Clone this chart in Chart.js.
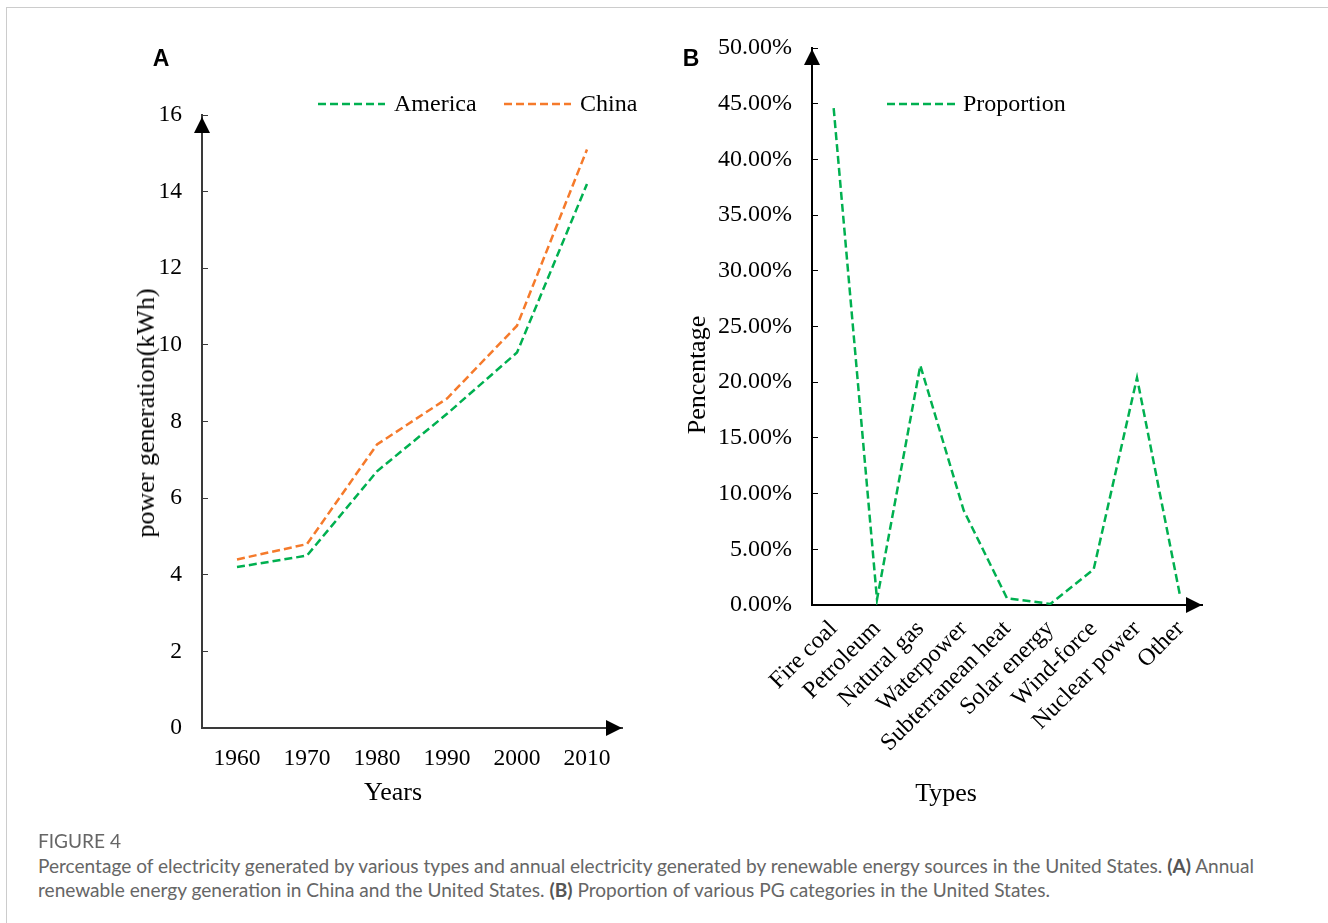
<!DOCTYPE html>
<html>
<head>
<meta charset="utf-8">
<script src="https://cdn.jsdelivr.net/npm/chart.js@4.4.1/dist/chart.umd.min.js"></script>
<style>
  body { margin: 0; background: #fff; width: 1328px; height: 923px; position: relative; overflow: hidden; font-family: 'Liberation Serif', serif; }
  .frame { position: absolute; left: 6px; top: 7px; width: 1340px; height: 940px; border-top: 1px solid #cccccc; border-left: 1px solid #cccccc; }
  canvas { position: absolute; top: 0; }
  #chartA { left: 0; }
  #chartB { left: 664px; }
  .panel { position: absolute; font-family: 'Liberation Sans', Arial, sans-serif; font-weight: bold; font-size: 23px; transform: translate(-50%, -50%); }
  .axis-title { position: absolute; font-size: 26px; white-space: nowrap; transform: translate(-50%, -50%); color: #000; }
  .axis-title.rot { transform: translate(-50%, -50%) rotate(-90deg); }
  .caption { position: absolute; left: 38px; font-family: Lato, 'Open Sans', sans-serif; color: #666; white-space: nowrap; font-size: 17px; line-height: 22px; }
  .caption b { font-weight: bold; color: #555; }
</style>
</head>
<body>
<div class="frame"></div>
<canvas id="chartA" width="664" height="830"></canvas>
<canvas id="chartB" width="664" height="830"></canvas>

<div class="panel" style="left:161px; top:58px;">A</div>
<div class="panel" style="left:691px; top:58px;">B</div>

<div class="axis-title rot" style="left:146px; top:413px;">power generation(kWh)</div>
<div class="axis-title" style="left:393px; top:792px;">Years</div>
<div class="axis-title rot" style="left:697px; top:375px;">Pencentage</div>
<div class="axis-title" style="left:946px; top:793px;">Types</div>

<div class="caption" id="figLabel" style="top:830px; font-size:18px;">FIGURE 4</div>
<div class="caption" id="cap1" style="top:855px;">Percentage of electricity generated by various types and annual electricity generated by renewable energy sources in the United States. <b>(A)</b> Annual</div>
<div class="caption" id="cap2" style="top:879px;">renewable energy generation in China and the United States. <b>(B)</b> Proportion of various PG categories in the United States.</div>

<script>
// Panel A data
const years = ['1960', '1970', '1980', '1990', '2000', '2010'];
const america = [4.2, 4.5, 6.7, 8.2, 9.8, 14.2];
const china = [4.4, 4.8, 7.4, 8.6, 10.5, 15.1];

// Panel B data (percent)
const types = ['Fire coal', 'Petroleum', 'Natural gas', 'Waterpower', 'Subterranean heat', 'Solar energy', 'Wind-force', 'Nuclear power', 'Other'];
const proportion = [44.6, 0.5, 21.5, 8.5, 0.6, 0.1, 3.2, 20.4, 0.7];

const GREEN = '#00b050';
const ORANGE = '#f57a2b';

Chart.defaults.font.family = "'Liberation Serif', 'Times New Roman', serif";
Chart.defaults.font.size = 23.5;
Chart.defaults.color = '#000';

// caption lines stretched to the width they have in the figure
function fitWidth(id, target, lines) {
    const el = document.getElementById(id);
    const size = parseFloat(getComputedStyle(el).fontSize);
    const w = el.getBoundingClientRect().width;
    const newSize = size * target / w;
    (lines || [id]).forEach(l => { document.getElementById(l).style.fontSize = newSize + 'px'; });
}
fitWidth('cap1', 1217, ['cap1', 'cap2']);
fitWidth('figLabel', 83);

// legend drawn as dashed line + label, Excel style
const dashLegend = {
    id: 'dashLegend',
    afterDraw(chart, args, opts) {
        const ctx = chart.ctx;
        ctx.save();
        ctx.font = opts.font;
        ctx.textBaseline = 'middle';
        ctx.textAlign = 'left';
        chart.data.datasets.forEach((ds, i) => {
            const x = opts.positions[i];
            const y = opts.y;
            ctx.strokeStyle = ds.borderColor;
            ctx.lineWidth = ds.borderWidth;
            ctx.setLineDash(ds.borderDash);
            ctx.beginPath();
            ctx.moveTo(x, y);
            ctx.lineTo(x + opts.lineLength, y);
            ctx.stroke();
            ctx.setLineDash([]);
            ctx.fillStyle = '#000';
            ctx.fillText(ds.label, x + opts.lineLength + opts.gap, y + 1);
        });
        ctx.restore();
    }
};

// arrow heads at the ends of both axes
const axisArrows = {
    id: 'axisArrows',
    afterDraw(chart, args, opts) {
        const ctx = chart.ctx;
        const a = chart.chartArea;
        ctx.save();
        ctx.fillStyle = opts.color;
        ctx.beginPath();
        ctx.moveTo(a.left, a.top + opts.dy);
        ctx.lineTo(a.left - 8, a.top + opts.dy + 16);
        ctx.lineTo(a.left + 8, a.top + opts.dy + 16);
        ctx.closePath();
        ctx.fill();
        ctx.beginPath();
        ctx.moveTo(a.right, a.bottom);
        ctx.lineTo(a.right - 16, a.bottom - 8);
        ctx.lineTo(a.right - 16, a.bottom + 8);
        ctx.closePath();
        ctx.fill();
        ctx.restore();
    }
};

function lineSet(label, data, color) {
    return {
        label: label,
        data: data,
        borderColor: color,
        backgroundColor: color,
        borderWidth: 2.5,
        borderDash: [8, 4],
        pointRadius: 0,
        tension: 0,
        fill: false
    };
}

// Graphique A
new Chart(document.getElementById('chartA'), {
    type: 'line',
    data: {
        labels: years,
        datasets: [lineSet('America', america, GREEN), lineSet('China', china, ORANGE)]
    },
    plugins: [dashLegend, axisArrows],
    options: {
        responsive: false,
        animation: false,
        layout: { padding: { left: 0, top: 115, right: 42, bottom: 0 } },
        scales: {
            x: {
                type: 'category',
                offset: true,
                grid: { display: false, drawTicks: false },
                border: { display: true, color: '#3a3a3a', width: 2 },
                ticks: { padding: 17, maxRotation: 0, autoSkip: false },
                afterFit(scale) { scale.height = 102; }
            },
            y: {
                min: 0,
                max: 16,
                ticks: { stepSize: 2, padding: 26 },
                grid: { drawOnChartArea: false, drawTicks: true, tickLength: -6, color: '#3a3a3a', lineWidth: 1 },
                border: { display: true, color: '#3a3a3a', width: 2 },
                afterFit(scale) { scale.width = 202; }
            }
        },
        plugins: {
            legend: { display: false },
            tooltip: { enabled: false },
            dashLegend: { positions: [318, 504], y: 104, lineLength: 67, gap: 9, font: "24px 'Liberation Serif'" },
            axisArrows: { color: '#000', dy: 2 }
        }
    }
});

// Graphique B
new Chart(document.getElementById('chartB'), {
    type: 'line',
    data: {
        labels: types,
        datasets: [lineSet('Proportion', proportion, GREEN)]
    },
    plugins: [dashLegend, axisArrows],
    options: {
        responsive: false,
        animation: false,
        layout: { padding: { left: 0, top: 48, right: 126, bottom: 0 } },
        scales: {
            x: {
                type: 'category',
                offset: true,
                grid: { display: false, drawTicks: false },
                border: { display: true, color: '#000', width: 2 },
                ticks: { padding: 10, minRotation: 45, maxRotation: 45, autoSkip: false, font: { size: 24 } },
                afterFit(scale) { scale.height = 225; }
            },
            y: {
                min: 0,
                max: 50,
                ticks: {
                    stepSize: 5,
                    padding: 26,
                    font: { size: 24 },
                    callback: (v) => v.toFixed(2) + '%'
                },
                grid: { drawOnChartArea: false, drawTicks: true, tickLength: -6, color: '#000', lineWidth: 1 },
                border: { display: true, color: '#000', width: 2 },
                afterFit(scale) { scale.width = 148; }
            }
        },
        plugins: {
            legend: { display: false },
            tooltip: { enabled: false },
            dashLegend: { positions: [223], y: 104, lineLength: 68, gap: 8, font: "24px 'Liberation Serif'" },
            axisArrows: { color: '#000', dy: 1 }
        }
    }
});
</script>
</body>
</html>
